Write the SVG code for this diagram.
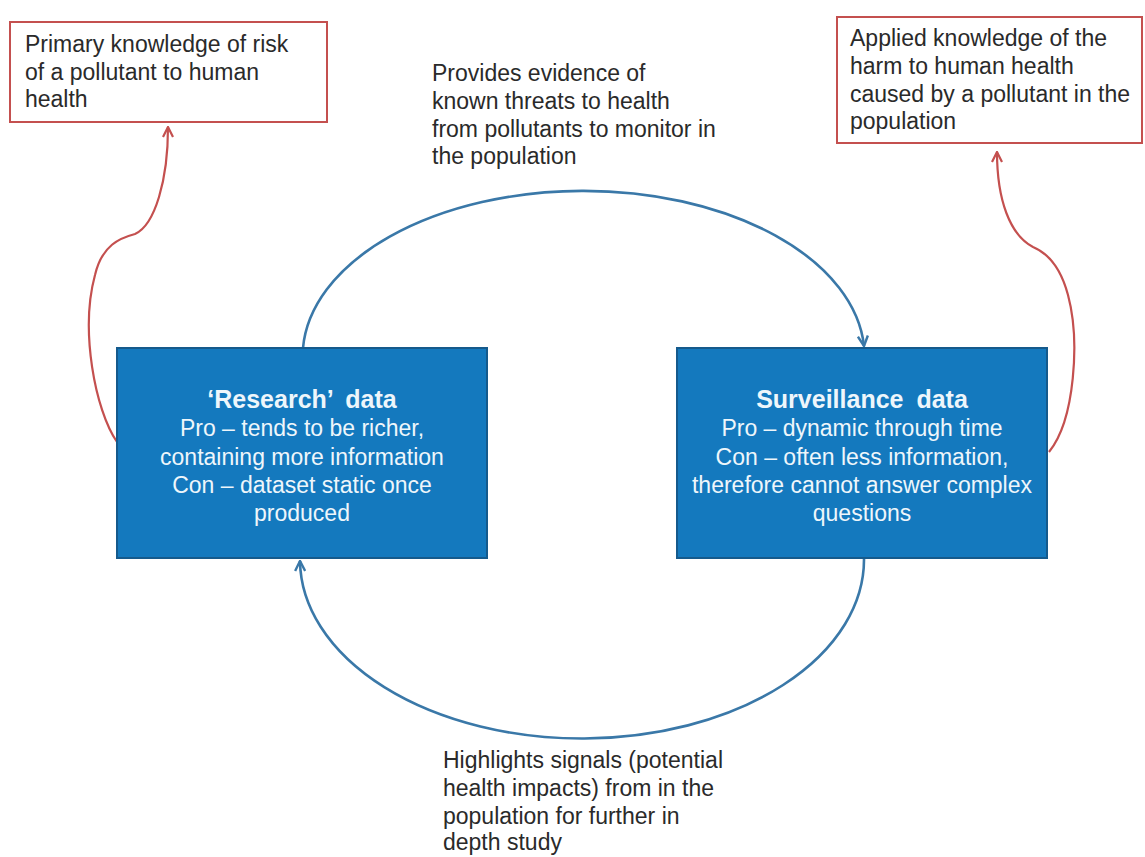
<svg xmlns="http://www.w3.org/2000/svg" width="1145" height="857" viewBox="0 0 1145 857">
<defs>
<style>
.lbl{font-family:"Liberation Sans",Arial,sans-serif;font-size:23px;fill:#2a2a2a}
.red{fill:#ffffff;stroke:#c4504f;stroke-width:2}
.blue{fill:#1479be;stroke:#155a8c;stroke-width:2}
.bt{font-family:"Liberation Sans",Arial,sans-serif;font-size:23px;fill:#eef6fb;text-anchor:middle}
.bt .h{font-weight:bold;font-size:25px;word-spacing:6px}
.rc{fill:none;stroke:#c4504f;stroke-width:2.2}
.bc{fill:none;stroke:#3a78a8;stroke-width:2.6}
</style>
<marker id="ar" viewBox="0 0 12 12" refX="11" refY="6" markerWidth="12" markerHeight="12" markerUnits="userSpaceOnUse" orient="auto"><path d="M1,1 L11,6 L1,11" fill="none" stroke="#c4504f" stroke-width="2.2"/></marker>
<marker id="ab" viewBox="0 0 12 12" refX="11" refY="6" markerWidth="12" markerHeight="12" markerUnits="userSpaceOnUse" orient="auto"><path d="M1,1 L11,6 L1,11" fill="none" stroke="#3a78a8" stroke-width="2.4"/></marker>
</defs>
<rect width="1145" height="857" fill="#ffffff"/>
<g id="connectors">
<path class="rc" d="M117,442 C95,410 80,330 95,275 C102,245 120,238 135,234 C155,225 168,180 168,127" marker-end="url(#ar)"/>
<path class="rc" d="M1049,452 C1075,420 1080,340 1068,295 C1060,265 1045,252 1033,247 C1010,235 997,200 997,152" marker-end="url(#ar)"/>
<path class="bc" d="M303,348 A281,166 0 0 1 864,346" marker-end="url(#ab)"/>
<path class="bc" d="M864,558 A282,179 0 0 1 300,561" marker-end="url(#ab)"/>
</g>
<g id="primary-knowledge">
<rect class="red" x="10" y="22" width="317" height="100"/>
<text class="lbl" x="25" y="52">Primary knowledge of risk</text>
<text class="lbl" x="25" y="80">of a pollutant to human</text>
<text class="lbl" x="25" y="107">health</text>
</g>
<g id="applied-knowledge">
<rect class="red" x="837" y="17" width="305" height="126"/>
<text class="lbl" x="850" y="46">Applied knowledge of the</text>
<text class="lbl" x="850" y="74">harm to human health</text>
<text class="lbl" x="850" y="102">caused by a pollutant in the</text>
<text class="lbl" x="850" y="129">population</text>
</g>
<g id="provides-label">
<text class="lbl" x="432" y="81">Provides evidence of</text>
<text class="lbl" x="432" y="109">known threats to health</text>
<text class="lbl" x="432" y="137">from pollutants to monitor in</text>
<text class="lbl" x="432" y="164">the population</text>
</g>
<g id="highlights-label">
<text class="lbl" x="443" y="768">Highlights signals (potential</text>
<text class="lbl" x="443" y="796">health impacts) from in the</text>
<text class="lbl" x="443" y="824">population for further in</text>
<text class="lbl" x="443" y="850">depth study</text>
</g>
<g id="research-data">
<rect class="blue" x="117" y="348" width="370" height="210"/>
<text class="bt"><tspan class="h" x="302" y="408">‘Research’ data</tspan><tspan x="302" y="436">Pro – tends to be richer,</tspan><tspan x="302" y="465">containing more information</tspan><tspan x="302" y="493">Con – dataset static once</tspan><tspan x="302" y="521">produced</tspan></text>
</g>
<g id="surveillance-data">
<rect class="blue" x="677" y="348" width="370" height="210"/>
<text class="bt"><tspan class="h" x="862" y="408">Surveillance data</tspan><tspan x="862" y="436">Pro – dynamic through time</tspan><tspan x="862" y="465">Con – often less information,</tspan><tspan x="862" y="493">therefore cannot answer complex</tspan><tspan x="862" y="521">questions</tspan></text>
</g>
</svg>
